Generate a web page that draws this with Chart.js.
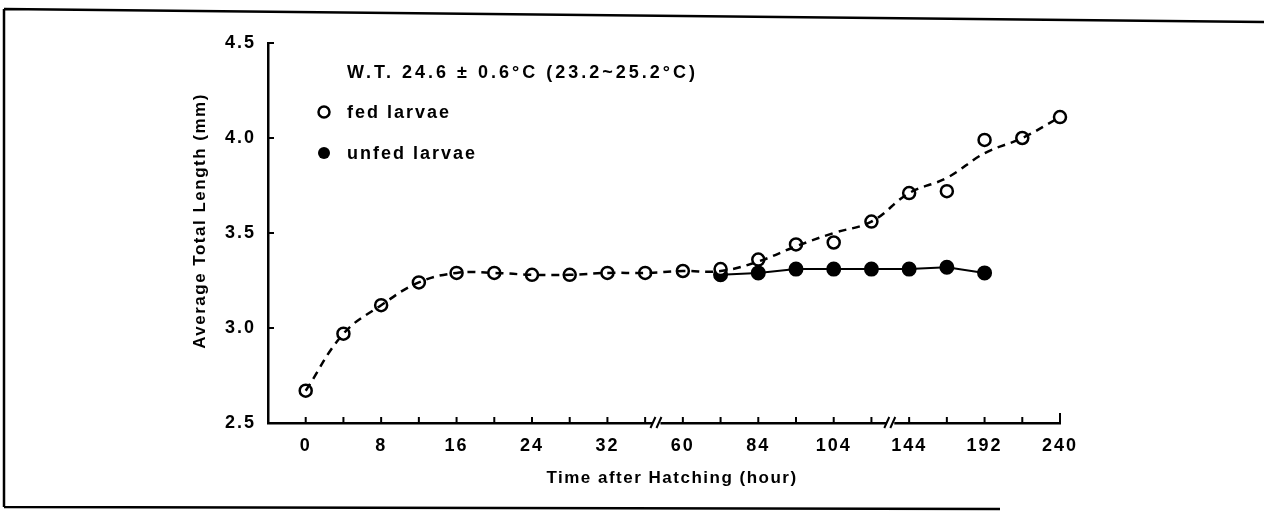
<!DOCTYPE html>
<html>
<head>
<meta charset="utf-8">
<script src="https://cdn.jsdelivr.net/npm/chart.js@4.4.1/dist/chart.umd.min.js"></script>
<style>
  html, body { margin: 0; padding: 0; background: #fff; }
  #wrap { width: 1264px; height: 522px; }
</style>
</head>
<body>
<div id="wrap"><canvas id="lenChart"></canvas></div>
<script>
// tick labels shown under every second position of the (broken) time axis
const xLabels = ['0', '8', '16', '24', '32', '60', '84', '104', '144', '192', '240'];
const yTicks = [2.5, 3.0, 3.5, 4.0, 4.5];

// fed larvae: measured points and the hand-drawn dashed curve through them
const fedY = [2.67, 2.97, 3.12, 3.24, 3.29, 3.29, 3.28, 3.28, 3.29, 3.29, 3.30,
              3.31, 3.36, 3.44, 3.45, 3.56, 3.71, 3.72, 3.99, 4.00, 4.11];
const fedCurve = [2.67, 2.97, 3.12, 3.24, 3.29, 3.29, 3.28, 3.28, 3.29, 3.29, 3.30,
                  3.30, 3.35, 3.43, 3.50, 3.56, 3.71, 3.79, 3.92, 4.00, 4.11];
// unfed larvae start at position 11
const unfedY = [null, null, null, null, null, null, null, null, null, null, null,
                3.28, 3.29, 3.31, 3.31, 3.31, 3.31, 3.32, 3.29];

const axisBreaks = [9.3, 15.5];
const FAMILY = '"Liberation Sans", Arial, sans-serif';

const toPts = arr => arr.map((v, i) => ({ x: i, y: v })).filter(p => p.y !== null);

const extras = {
  id: 'extras',
  beforeDraw(chart) {
    const c = chart.ctx;
    c.letterSpacing = '2px';   // tick labels of the scanned figure are spaced out
    c.save();
    c.strokeStyle = '#000';
    c.lineWidth = 2.5;
    // scanned page frame
    c.beginPath();
    c.moveTo(4, 9); c.lineTo(1264, 22);
    c.moveTo(4, 9); c.lineTo(4, 507);
    c.moveTo(4, 507); c.lineTo(1000, 509);
    c.stroke();
    c.restore();
  },
  afterDraw(chart) {
    const c = chart.ctx;
    const xs = chart.scales.x, ys = chart.scales.y;
    const a = chart.chartArea;
    c.save();
    c.strokeStyle = '#000';
    c.fillStyle = '#000';
    c.lineWidth = 2;
    // inward tick marks
    c.beginPath();
    for (let i = 0; i <= 20; i++) {
      const px = xs.getPixelForValue(i);
      c.moveTo(px, a.bottom); c.lineTo(px, a.bottom - 6);
    }
    c.moveTo(a.right, a.bottom); c.lineTo(a.right, a.bottom - 10);
    yTicks.forEach(v => {
      const py = ys.getPixelForValue(v);
      c.moveTo(a.left, py); c.lineTo(a.left + 6, py);
    });
    c.stroke();
    // axis breaks
    axisBreaks.forEach(b => {
      const px = xs.getPixelForValue(b);
      c.fillStyle = '#fff';
      c.fillRect(px - 4, a.bottom - 6, 8, 12);
      c.beginPath();
      c.moveTo(px - 6, a.bottom + 5); c.lineTo(px - 1, a.bottom - 6);
      c.moveTo(px, a.bottom + 5); c.lineTo(px + 5, a.bottom - 6);
      c.stroke();
    });
    c.fillStyle = '#000';
    c.textBaseline = 'middle';
    // axis titles
    c.font = 'bold 17px ' + FAMILY;
    c.letterSpacing = '1.5px';
    c.textAlign = 'center';
    c.fillText('Time after Hatching (hour)', (a.left + a.right) / 2 + 8, 478);
    c.save();
    c.translate(200, 221);
    c.rotate(-Math.PI / 2);
    c.fillText('Average Total Length (mm)', 0, 0);
    c.restore();
    // note and legend
    c.textAlign = 'left';
    c.font = 'bold 18px ' + FAMILY;
    c.letterSpacing = '3px';
    c.fillText('W.T. 24.6 \u00b1 0.6\u00b0C (23.2~25.2\u00b0C)', 347, 73);
    c.letterSpacing = '2px';
    c.fillText('fed larvae', 347, 113);
    c.fillText('unfed larvae', 347, 154);
    c.lineWidth = 2.5;
    c.beginPath(); c.arc(324, 112, 5.5, 0, Math.PI * 2); c.stroke();
    c.beginPath(); c.arc(324, 153, 6, 0, Math.PI * 2); c.fill();
    c.restore();
  }
};

const tickFont = { family: FAMILY, size: 18, weight: 'bold' };

const ctx = document.getElementById('lenChart').getContext('2d');
const lenChart = new Chart(ctx, {
  type: 'line',
  data: {
    datasets: [
      {
        label: 'fed curve',
        data: toPts(fedCurve),
        borderColor: '#000',
        borderWidth: 2.5,
        borderDash: [8, 6],
        tension: 0.4,
        pointRadius: 0,
        clip: false,
        fill: false
      },
      {
        label: 'fed larvae',
        data: toPts(fedY),
        showLine: false,
        clip: false,
        pointRadius: 6,
        pointBorderWidth: 2.5,
        pointBorderColor: '#000',
        pointBackgroundColor: '#fff'
      },
      {
        label: 'unfed larvae',
        data: toPts(unfedY),
        borderColor: '#000',
        borderWidth: 2,
        tension: 0,
        clip: false,
        pointRadius: 6.5,
        pointBorderColor: '#000',
        pointBackgroundColor: '#000'
      }
    ]
  },
  options: {
    responsive: true,
    maintainAspectRatio: false,
    animation: false,
    layout: { padding: { top: 43, right: 204, left: 0, bottom: 0 } },
    plugins: {
      legend: { display: false },
      tooltip: { enabled: false }
    },
    scales: {
      x: {
        type: 'linear',
        min: -1,
        max: 20,
        grid: { display: false },
        border: { display: true, color: '#000', width: 2.5 },
        ticks: {
          stepSize: 1,
          autoSkip: false,
          maxRotation: 0,
          color: '#000',
          padding: 4,
          font: tickFont,
          callback: v => (v >= 0 && v % 2 === 0) ? xLabels[v / 2] : ''
        },
        afterFit: s => { s.height = 99; }
      },
      y: {
        min: 2.5,
        max: 4.5,
        grid: { display: false },
        border: { display: true, color: '#000', width: 2.5 },
        ticks: {
          stepSize: 0.5,
          color: '#000',
          padding: 4,
          font: tickFont,
          callback: v => v.toFixed(1)
        },
        afterFit: s => { s.width = 268; }
      }
    }
  },
  plugins: [extras]
});
</script>
</body>
</html>
